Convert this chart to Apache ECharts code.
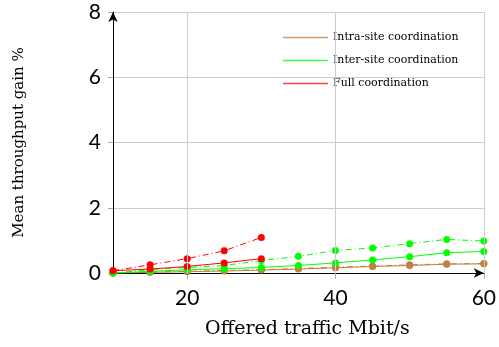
<!DOCTYPE html>
<html><head><meta charset="utf-8">
<script src="https://cdn.jsdelivr.net/npm/echarts@6/dist/echarts.min.js"></script>
<style>html,body{margin:0;padding:0;background:#fff}#c{width:499px;height:347px}</style>
</head><body><div id="c"></div>
<script>
const traffic = [10, 15, 20, 25, 30, 35, 40, 45, 50, 55, 60];
const fullTraffic = [10, 15, 20, 25, 30];
const intraSolid = [0.0, 0.02, 0.04, 0.06, 0.09, 0.12, 0.16, 0.2, 0.23, 0.27, 0.28];
const intraDash  = [0.0, 0.03, 0.05, 0.08, 0.1, 0.14, 0.18, 0.21, 0.25, 0.28, 0.29];
const interSolid = [0.0, 0.05, 0.1, 0.13, 0.17, 0.23, 0.31, 0.4, 0.5, 0.62, 0.66];
const interDash  = [0.0, 0.1, 0.17, 0.23, 0.38, 0.51, 0.69, 0.77, 0.9, 1.03, 0.98];
const fullSolid  = [0.07, 0.12, 0.2, 0.31, 0.44];
const fullDash   = [0.07, 0.25, 0.44, 0.68, 1.09];
const xTicks = [20, 40, 60];
const names = ['Intra-site coordination', 'Inter-site coordination', 'Full coordination'];
const colors = ['#bf8040', '#00ff00', '#ff0000'];

const zip = (xs, ys) => xs.map((x, i) => [x, ys[i]]);
function mk(name, xs, ys, color, dashed) {
  return {
    name: name, type: 'line', data: zip(xs, ys),
    symbol: 'circle', symbolSize: 7,
    itemStyle: { color: color },
    lineStyle: { color: color, width: 1, type: dashed ? [6, 3, 1, 3] : 'solid' },
    z: dashed ? 3 : 4
  };
}
const series = [
  mk(names[0], traffic, intraDash, colors[0], true),
  mk(names[1], traffic, interDash, colors[1], true),
  mk(names[2], fullTraffic, fullDash, colors[2], true),
  mk(names[0], traffic, intraSolid, colors[0], false),
  mk(names[1], traffic, interSolid, colors[1], false),
  mk(names[2], fullTraffic, fullSolid, colors[2], false)
];
series[0].markLine = {
  silent: true, symbol: 'none', label: { show: false },
  lineStyle: { color: '#cccccc', type: 'solid', width: 1 },
  data: xTicks.map(v => ({ xAxis: v }))
};

const chart = echarts.init(document.getElementById('c'), null, { renderer: 'canvas' });
chart.setOption({
  animation: false,
  grid: { left: 113, right: 15, top: 12, bottom: 74, containLabel: false },
  legend: {
    data: names.map((n, i) => ({ name: n, itemStyle: { color: colors[i], borderWidth: 0, opacity: 0.75 } })),
    orient: 'vertical', left: 278, top: 27, itemGap: 12,
    icon: 'rect', itemWidth: 45, itemHeight: 1.5,
    textStyle: { fontFamily: 'DejaVu Serif', fontSize: 11, color: '#000' }
  },
  xAxis: {
    type: 'value', min: 10, max: 60, interval: 10,
    name: 'Offered traffic Mbit/s', nameLocation: 'middle', nameGap: 47,
    nameTextStyle: { fontFamily: 'DejaVu Serif', fontSize: 19, color: '#000', padding: [0, 0, 0, 18] },
    axisLine: { show: true, symbol: ['none', 'arrow'], symbolSize: [7, 10], lineStyle: { color: '#000', width: 1 } },
    axisTick: { show: true, customValues: xTicks, length: 6, inside: false, lineStyle: { color: '#aaa' } },
    axisLabel: { customValues: xTicks, fontFamily: 'Lato', fontSize: 21, color: '#000', margin: 15 },
    splitLine: { show: false }
  },
  yAxis: {
    type: 'value', min: 0, max: 8, interval: 2,
    name: 'Mean throughput gain %', nameLocation: 'middle', nameGap: 86, nameRotate: 90,
    nameTextStyle: { fontFamily: 'DejaVu Serif', fontSize: 15, color: '#000' },
    axisLine: { show: true, symbol: ['none', 'arrow'], symbolSize: [7, 10], lineStyle: { color: '#000', width: 1 } },
    axisTick: { show: true, length: 5, lineStyle: { color: '#aaa' } },
    axisLabel: { fontFamily: 'Lato', fontSize: 21, color: '#000', margin: 12 },
    splitLine: { show: true, lineStyle: { color: '#cccccc', width: 1 } }
  },
  series: series
});
</script></body></html>
